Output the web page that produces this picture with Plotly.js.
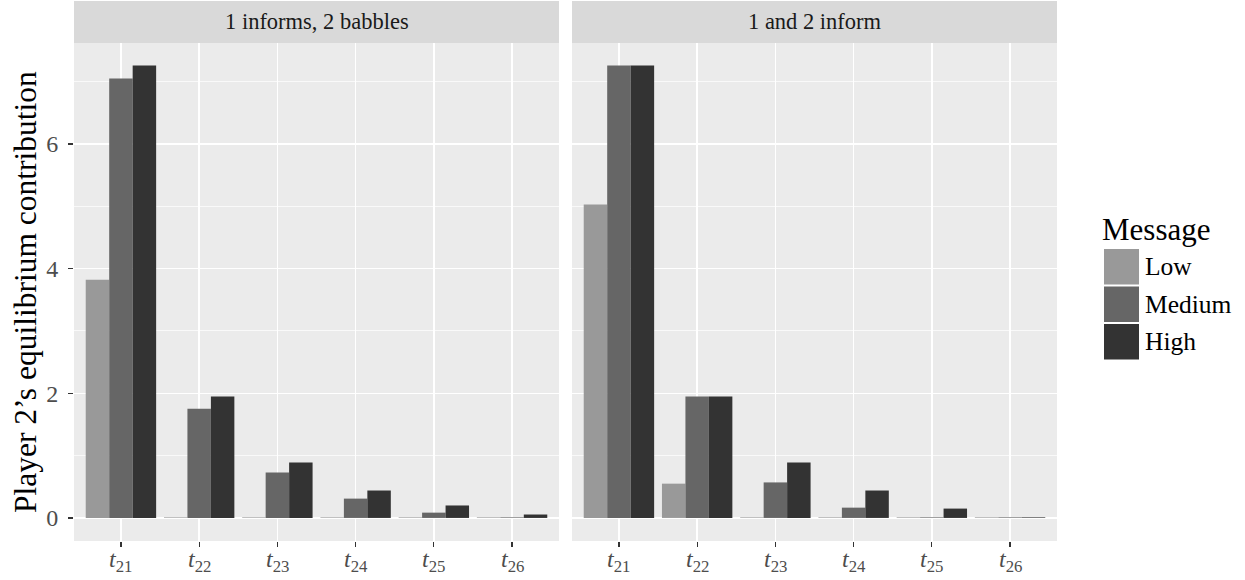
<!DOCTYPE html>
<html>
<head>
<meta charset="utf-8">
<script src="https://cdn.plot.ly/plotly-3.0.1.min.js"></script>
<style>
  html, body { margin: 0; padding: 0; background: #ffffff; }
  #chart { width: 1245px; height: 580px; }
</style>
</head>
<body>
<div id="chart"></div>
<script>
// ---- data ----
const categories = ['t21', 't22', 't23', 't24', 't25', 't26'];
const tickLabels = ['<i>t</i><sub>21</sub>', '<i>t</i><sub>22</sub>', '<i>t</i><sub>23</sub>',
                    '<i>t</i><sub>24</sub>', '<i>t</i><sub>25</sub>', '<i>t</i><sub>26</sub>'];
const facets = ['1 informs, 2 babbles', '1 and 2 inform'];
const seriesNames = ['Low', 'Medium', 'High'];
const seriesColors = ['#999999', '#666666', '#333333'];
const yTitle = 'Player 2’s equilibrium contribution';
const legendTitle = 'Message';

const babbleLow    = [3.82, 0.01, 0.01, 0.01, 0.01, 0.01];
const babbleMedium = [7.05, 1.75, 0.73, 0.31, 0.085, 0.01];
const babbleHigh   = [7.26, 1.95, 0.89, 0.44, 0.20, 0.055];

const informLow    = [5.03, 0.55, 0.01, 0.01, 0.01, 0.01];
const informMedium = [7.26, 1.95, 0.57, 0.165, 0.01, 0.01];
const informHigh   = [7.26, 1.95, 0.89, 0.44, 0.15, 0.01];

const yTickVals = [0, 2, 4, 6];
const yTickText = ['0', '2', '4', '6'];

// ---- geometry (pixels of the 1245x580 canvas) ----
const W = 1245, H = 580;
const px = v => v / W;
const py = v => 1 - v / H;
const panels = [[74, 559], [572, 1057]];
const panelTop = 43, panelBottom = 541, stripTop = 1;

const FONT = '"Liberation Serif", "Times New Roman", Times, serif';

const panelSeries = [
  [babbleLow, babbleMedium, babbleHigh],
  [informLow, informMedium, informHigh]
];

const traces = [];
panelSeries.forEach((set, p) => {
  set.forEach((vals, s) => {
    traces.push({
      type: 'bar',
      x: categories,
      y: vals,
      name: seriesNames[s],
      marker: { color: seriesColors[s], line: { width: 0 } },
      xaxis: p === 0 ? 'x' : 'x2',
      yaxis: p === 0 ? 'y' : 'y2',
      showlegend: false,
      hoverinfo: 'x+y+name'
    });
  });
});

function xAxis(p) {
  return {
    domain: [px(panels[p][0]), px(panels[p][1])],
    anchor: p === 0 ? 'y' : 'y2',
    type: 'category',
    categoryorder: 'array',
    categoryarray: categories,
    range: [-0.6, 5.6],
    tickmode: 'array',
    tickvals: categories,
    ticktext: tickLabels,
    showticklabels: false,
    ticks: 'outside', ticklen: 5, tickwidth: 1.2, tickcolor: '#333333',
    showgrid: true, gridcolor: '#ffffff', gridwidth: 1.5,
    zeroline: false, showline: false,
    fixedrange: true
  };
}
function yAxis(p) {
  const a = {
    domain: [py(panelBottom), py(panelTop)],
    anchor: p === 0 ? 'x' : 'x2',
    range: [-0.37, 7.62],
    tickmode: 'array',
    tickvals: yTickVals,
    ticktext: yTickText,
    showticklabels: p === 0,
    ticks: p === 0 ? 'outside' : '',
    ticklen: 5, tickwidth: 1.2, tickcolor: '#333333',
    ticklabelstandoff: 5,
    tickfont: { family: FONT, size: 24, color: '#4d4d4d' },
    showgrid: true, gridcolor: '#ffffff', gridwidth: 1.5,
    minor: { dtick: 1, tick0: 0, showgrid: true, gridcolor: '#ffffff', gridwidth: 0.7, ticks: '' },
    zeroline: false, showline: false,
    fixedrange: true
  };
  if (p !== 0) a.matches = 'y';
  return a;
}

const shapes = [];
const annotations = [];
// y-axis title
annotations.push({ xref: 'paper', yref: 'paper', x: px(25), y: py((panelTop + panelBottom) / 2),
  text: yTitle, textangle: -90, showarrow: false, xanchor: 'center', yanchor: 'middle',
  font: { family: FONT, size: 31.5, color: '#000000' } });
// panel backgrounds, strips and category labels
panels.forEach((pp, p) => {
  shapes.push({ type: 'rect', xref: 'paper', yref: 'paper', layer: 'below',
    x0: px(pp[0]), x1: px(pp[1]), y0: py(panelBottom), y1: py(panelTop),
    fillcolor: '#ebebeb', line: { width: 0 } });
  shapes.push({ type: 'rect', xref: 'paper', yref: 'paper', layer: 'below',
    x0: px(pp[0]), x1: px(pp[1]), y0: py(panelTop), y1: py(stripTop),
    fillcolor: '#d9d9d9', line: { width: 0 } });
  annotations.push({ xref: 'paper', yref: 'paper', x: px((pp[0] + pp[1]) / 2), y: py((panelTop + stripTop) / 2),
    text: facets[p], showarrow: false, xanchor: 'center', yanchor: 'middle',
    font: { family: FONT, size: 22.5, color: '#1a1a1a' } });
  categories.forEach((c, i) => {
    annotations.push({ xref: p === 0 ? 'x' : 'x2', yref: 'paper', x: c, y: py(545),
      text: tickLabels[i], showarrow: false, xanchor: 'center', yanchor: 'top',
      borderpad: 0, font: { family: FONT, size: 24, color: '#4d4d4d' } });
  });
});

// legend (drawn from seriesNames / seriesColors)
const legKeyX0 = 1104, legKeyX1 = 1139, legKeyY0 = 249, legKeyH = 37.5;
annotations.push({ xref: 'paper', yref: 'paper', x: px(1100), y: py(229),
  text: legendTitle, showarrow: false, xanchor: 'left', yanchor: 'middle',
  font: { family: FONT, size: 31, color: '#000000' } });
seriesNames.forEach((n, i) => {
  const y0 = legKeyY0 + i * legKeyH;
  shapes.push({ type: 'rect', xref: 'paper', yref: 'paper',
    x0: px(legKeyX0), x1: px(legKeyX1), y0: py(y0 + legKeyH - 2), y1: py(y0),
    fillcolor: seriesColors[i], line: { width: 0 } });
  annotations.push({ xref: 'paper', yref: 'paper', x: px(1143), y: py(y0 + (legKeyH - 2) / 2),
    text: n, showarrow: false, xanchor: 'left', yanchor: 'middle',
    font: { family: FONT, size: 25.5, color: '#000000' } });
});

const layout = {
  width: W, height: H,
  margin: { l: 0, r: 0, t: 0, b: 0, pad: 0 },
  paper_bgcolor: '#ffffff',
  plot_bgcolor: 'rgba(0,0,0,0)',
  barmode: 'group',
  bargap: 0.1,
  bargroupgap: 0,
  showlegend: false,
  font: { family: FONT },
  xaxis: xAxis(0), xaxis2: xAxis(1),
  yaxis: yAxis(0), yaxis2: yAxis(1),
  shapes: shapes,
  annotations: annotations
};

Plotly.newPlot('chart', traces, layout, { displayModeBar: false, staticPlot: true });
</script>
</body>
</html>
